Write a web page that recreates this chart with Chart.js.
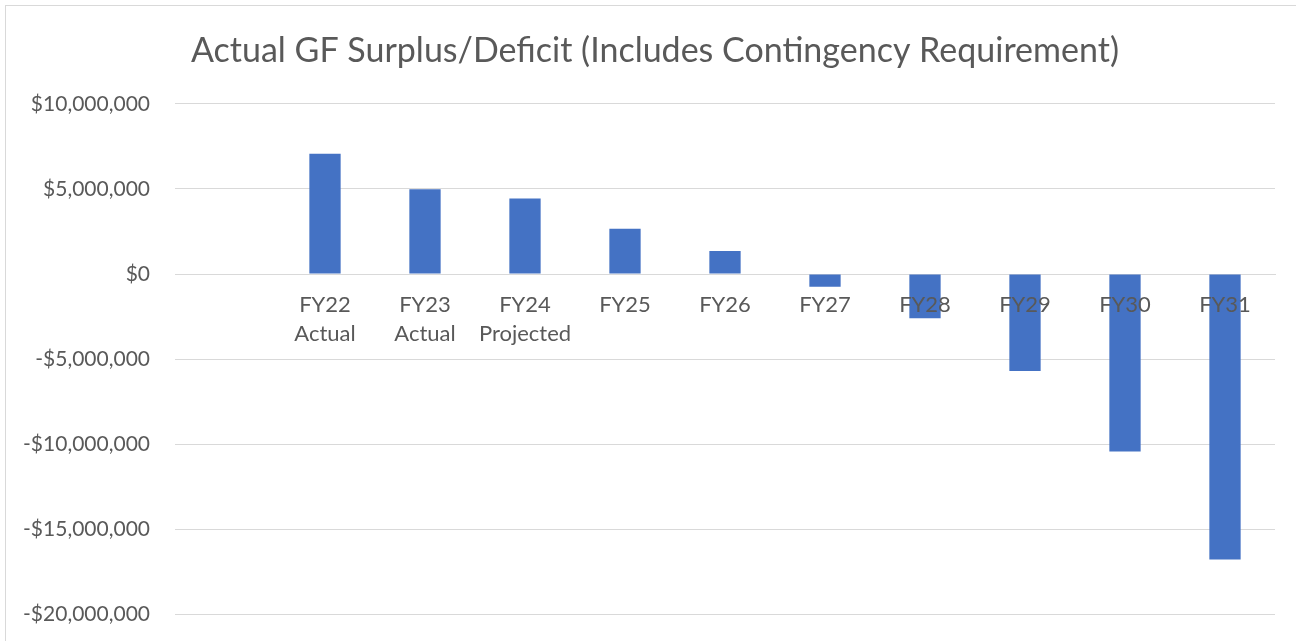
<!DOCTYPE html>
<html>
<head>
<meta charset="utf-8">
<script src="https://cdn.jsdelivr.net/npm/chart.js@4"></script>
<style>
  html, body { margin: 0; padding: 0; background: #ffffff; overflow: hidden; }
  #wrap { width: 1296px; height: 641px; position: relative; overflow: hidden; }
</style>
</head>
<body>
<div id="wrap"><canvas id="c" width="1296" height="652"></canvas></div>
<script>
const categories = ["", ["FY22", "Actual"], ["FY23", "Actual"], ["FY24", "Projected"], "FY25", "FY26", "FY27", "FY28", "FY29", "FY30", "FY31"];
const surplusValues = [null, 7060000, 4980000, 4430000, 2660000, 1350000, -750000, -2600000, -5700000, -10430000, -16780000];
const yTickMin = -20000000;
const yTickMax = 10000000;
const yTickStep = 5000000;
const chartTitle = "Actual GF Surplus/Deficit (Includes Contingency Requirement)";

const FONT = "Lato, 'Open Sans', sans-serif";
const TEXT = "#595959";
const GRID = "#D9D9D9";

function fmtMoney(v) {
  if (v === 0) return "$0";
  const s = Math.abs(v).toLocaleString("en-US");
  return (v < 0 ? "-$" : "$") + s;
}

const borderPlugin = {
  id: "outerBorder",
  afterDraw(chart) {
    const ctx = chart.ctx;
    ctx.save();
    ctx.strokeStyle = GRID;
    ctx.lineWidth = 1;
    ctx.strokeRect(5.5, 5.5, 1300, 650);
    ctx.restore();
  }
};

new Chart(document.getElementById("c"), {
  type: "bar",
  data: {
    labels: categories,
    datasets: [{
      data: surplusValues,
      backgroundColor: "#4472C4",
      borderWidth: 0,
      categoryPercentage: 1.0,
      barPercentage: 0.313,
      yAxisID: "y"
    }]
  },
  options: {
    responsive: false,
    animation: false,
    devicePixelRatio: 1,
    layout: { padding: { top: 0, right: 0, bottom: 16, left: 14 } },
    plugins: {
      legend: { display: false },
      tooltip: { enabled: false },
      title: {
        display: true,
        text: chartTitle,
        color: TEXT,
        font: { family: FONT, size: 34, weight: "normal", lineHeight: 1.2 },
        padding: { top: 31, bottom: 32 }
      }
    },
    scales: {
      x: {
        position: { y: 0 },
        grid: { display: false, drawTicks: false },
        border: { display: true, color: GRID, width: 1 },
        ticks: {
          z: 1,
          color: TEXT,
          font: { family: FONT, size: 22, lineHeight: 1.34 },
          padding: 16,
          maxRotation: 0,
          autoSkip: false
        }
      },
      y: {
        position: "left",
        min: yTickMin,
        max: yTickMax,
        afterFit(scale) { scale.width = 161; },
        grid: { color: GRID, lineWidth: 1, drawTicks: false },
        border: { display: false },
        ticks: {
          stepSize: yTickStep,
          color: TEXT,
          font: { family: FONT, size: 21 },
          padding: 25,
          callback: (v) => fmtMoney(v)
        }
      },
      yRightSpace: {
        type: "linear",
        position: "right",
        display: true,
        afterFit(scale) { scale.width = 21; },
        grid: { display: false, drawTicks: false },
        border: { display: false },
        ticks: { display: false }
      }
    }
  },
  plugins: [borderPlugin]
});
</script>
</body>
</html>
